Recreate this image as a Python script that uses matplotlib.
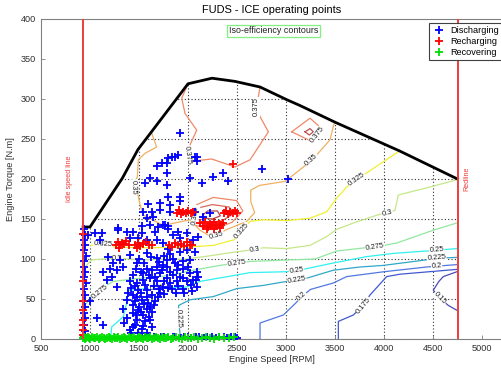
import numpy as np
import matplotlib
matplotlib.use('Agg')
import matplotlib.pyplot as plt
from matplotlib.patches import Polygon
from matplotlib.lines import Line2D

plt.rcParams['font.family'] = ['Liberation Sans', 'DejaVu Sans']

# ---------------- data ----------------
idle_speed = 930
red_speed = 4750

max_speed = [930, 1000, 1330, 1490, 1640, 2000, 2245, 2480, 2735, 3010, 3140, 3500, 4160, 4750]
max_torque = [140, 140, 201, 237, 261, 319, 326, 322, 315, 299, 292, 271, 235, 200]

# iso-efficiency curves (speed, torque) and vertex indices where labels sit
c150_x = [4742, 4656, 4571, 4503, 4560, 4605, 4742]
c150_y = [36, 42, 51, 61, 72, 78, 84]
c150_lab = [2]

c175_x = [3534, 3534, 3687, 3789, 3857, 4027, 4163, 4742]
c175_y = [0, 22, 30, 42, 55, 78, 81, 87]
c175_lab = [3]

c200_x = [2735, 2735, 2973, 3100, 3160, 3250, 3483, 3619, 3993, 4435, 4537, 4742]
c200_y = [0, 20, 30, 45, 53, 62, 70, 78, 84, 90, 91, 93]
c200_lab = [4, 10]

c225_x = [1918, 1918, 1900, 1905, 1987, 2020, 2258, 2497, 2633, 2768, 3007, 3109, 3211, 3483, 3755, 3993, 4435, 4537, 4742]
c225_y = [0, 8, 26, 42, 47, 49, 53, 63, 65, 67, 72, 74, 76, 86, 90, 92, 99, 101, 102]
c225_lab = [2, 11, 17]

c250_x = [1210, 1221, 1340, 1374, 1391, 1578, 1680, 1987, 2122, 2497, 2633, 2973, 3109, 3211, 3483, 3823, 4095, 4435, 4537, 4742]
c250_y = [0, 15, 28, 45, 61, 63, 63, 65, 72, 80, 83, 84, 85, 88, 95, 103, 107, 110, 111, 113]
c250_lab = [6, 12, 18]

c275_x = [932, 1000, 1102, 1180, 1238, 1510, 1782, 2055, 2327, 2497, 2633, 3296, 3517, 3806, 3908, 4130, 4503, 4742]
c275_y = [40, 50, 59, 68, 72, 76, 79, 86, 92, 95, 97, 100, 110, 114, 115, 120, 136, 145]
c275_lab = [2, 9, 14]

c300_x = [932, 1017, 1280, 1510, 1987, 2224, 2497, 2684, 2768, 3007, 3245, 3415, 3517, 3687, 3959, 4034, 4112, 4146, 4469, 4742]
c300_y = [88, 99, 101, 99, 100, 104, 109, 112, 114, 113, 117, 128, 137, 145, 156, 157, 161, 180, 190, 199]
c300_lab = [2, 7, 15]

c325_x = [1000, 1136, 1255, 1600, 1987, 2258, 2470, 2545, 2633, 2768, 3007, 3245, 3415, 3517, 3619, 3721, 3900, 4146]
c325_y = [117, 119, 115, 114, 115, 117, 124, 135, 147, 149, 148, 151, 159, 176, 190, 199, 214, 234]
c325_lab = [1, 7, 15]

c350_x = [1625, 1680, 1560, 1493, 1483, 1445, 1490, 1510, 1544, 1748, 2020, 2122, 2207, 2293, 2380, 2599, 2680, 2640, 2640, 2730, 2990, 3177, 3262, 3313, 3449, 3483, 3500]
c350_y = [259, 240, 232, 224, 203, 190, 180, 168, 155, 142, 149, 136, 130, 129, 136, 147, 158, 172, 186, 192, 197, 215, 224, 230, 249, 266, 272]
c350_lab = [5, 13, 22]

c375_x = [2003, 1936, 1969, 2089, 2003, 1995, 2020, 2242, 2480, 2633, 2735, 2820, 2735, 2700, 2735]
c375_y = [320, 301, 282, 261, 238, 230, 222, 225, 215, 224, 243, 259, 278, 290, 315]
c375_lab = [5, 13]

c375b_x = [3058, 3245, 3364, 3318, 3262, 3058]
c375b_y = [259, 276, 263, 256, 247, 259]
c375b_lab = [3]

c375c_x = [2050, 2090, 2258, 2496, 2560, 2450, 2330, 2200, 2080, 2050]
c375c_y = [150, 168, 177, 173, 160, 146, 140, 138, 142, 150]

c385_x = [2090, 2075, 2110, 2250, 2420, 2470, 2350, 2200, 2090]
c385_y = [145, 155, 164, 168, 165, 157, 148, 145, 145]
c385_lab = [1]

c395_x = [2150, 2200, 2300, 2330, 2250, 2160, 2150]
c395_y = [155, 160, 160, 154, 150, 151, 155]

c395b_x = [3194, 3245, 3279, 3238, 3194]
c395b_y = [259, 263, 259, 255, 259]

# operating points
discharging_upper = [(1918, 257), (1901, 230), (1867, 228), (1833, 227), (1799, 226), (1731, 220),
                     (1680, 216), (1782, 220), (1782, 207), (1612, 201), (1561, 195), (1680, 197),
                     (1782, 193), (2088, 227), (2071, 228), (2088, 222), (2020, 201), (2139, 195),
                     (2258, 202), (2360, 207), (2411, 197), (2751, 213), (3023, 200), (1799, 178),
                     (1918, 178), (1918, 172), (1816, 168), (1595, 169), (1714, 170), (1544, 159),
                     (1629, 159), (1714, 161), (1816, 159), (1578, 151), (1646, 153), (1612, 143),
                     (1748, 143), (1799, 141), (1527, 141), (1289, 139), (2071, 159), (2156, 153),
                     (2224, 157)]

discharging_core = [(983, 130), (1051, 132), (1119, 132), (1289, 136), (1374, 134), (1442, 134),
                    (1527, 132), (1663, 134), (1697, 140), (1765, 143), (1799, 138), (1850, 130),
                    (1901, 134), (1918, 126), (1986, 132), (2054, 124), (2105, 128),
                    (1102, 124), (1408, 126), (1493, 126), (1578, 124), (1680, 124), (1748, 120),
                    (1799, 113), (1918, 109), (1986, 111), (2071, 109),
                    (1187, 103), (1238, 95), (1306, 99), (1408, 105), (1476, 95), (1578, 107),
                    (1680, 101), (1782, 99), (1867, 95), (1952, 97), (2020, 99),
                    (1204, 88), (1272, 86), (1340, 90), (1442, 80), (1544, 82), (1578, 88),
                    (1629, 86), (1680, 90), (1748, 92), (1816, 84), (1884, 86), (1952, 88),
                    (2020, 82), (2088, 84), (1918, 78), (1782, 76), (1714, 82),
                    (1408, 72), (1476, 70), (1544, 74), (1612, 76), (1680, 72), (1748, 65),
                    (1816, 70), (1884, 72), (1986, 72), (2054, 74), (2088, 65), (1952, 63),
                    (1578, 61), (1493, 61), (1442, 55), (1629, 55), (1714, 57),
                    (1374, 49), (1459, 47), (1527, 49), (1595, 45), (1663, 47), (1578, 38),
                    (1493, 36), (1629, 34), (1442, 32), (1544, 30), (1340, 38),
                    (1476, 24), (1561, 22), (1612, 24), (1442, 15), (1527, 13), (1629, 15),
                    (1578, 7), (1493, 7), (1408, 11),
                    (1068, 26), (1136, 17), (1000, 47), (1272, 65), (1170, 74), (1136, 84), (1221, 78),
                    (1500, 100), (1550, 95), (1620, 102), (1700, 96), (1750, 104), (1820, 106),
                    (1850, 100), (1900, 92), (1470, 88), (1520, 84), (1600, 80), (1660, 78),
                    (1730, 86), (1790, 90), (1850, 80), (1950, 76), (2000, 90), (1420, 64),
                    (1460, 66), (1520, 58), (1560, 68), (1650, 66), (1700, 62), (1760, 72),
                    (1840, 62), (1900, 66), (2030, 68), (1390, 58), (1480, 52), (1550, 44),
                    (1610, 40), (1650, 42), (1440, 42), (1500, 40), (1380, 26), (1460, 18),
                    (1540, 16), (1600, 28), (1350, 20), (1420, 8), (1560, 4), (1470, 30),
                    (1520, 34), (1580, 52), (1690, 52), (1760, 56), (1800, 64), (1880, 58),
                    (1960, 58), (2040, 60), (2080, 74), (2100, 78)]

discharging_idle = [(940, 138), (945, 130), (935, 124), (950, 118), (938, 111), (955, 104), (940, 97),
                    (935, 90), (948, 84), (940, 77), (955, 70), (935, 63), (945, 55), (940, 48),
                    (950, 40), (935, 33), (945, 26), (940, 18), (950, 10), (938, 4)]

discharging_floor = [(1485, 2), (1530, 3), (1562, 1), (1604, 2), (1648, 3), (1671, 1), (1720, 2),
                     (1755, 3), (1798, 1), (1846, 2), (1872, 3), (1925, 1), (1958, 2), (2004, 3),
                     (2035, 1), (2086, 2), (2117, 3), (2165, 1), (2198, 2), (2243, 3), (2288, 1),
                     (2316, 2), (2364, 3), (2395, 1), (2441, 2), (2478, 3), (2502, 1)]

recharging = [(1262, 118), (1285, 121), (1310, 117), (1330, 120), (1350, 119), (1372, 122),
              (1395, 118), (1300, 114),
              (1460, 117), (1490, 120), (1510, 116), (1540, 119), (1570, 121), (1600, 117),
              (1630, 118), (1480, 114),
              (1810, 118), (1840, 115), (1870, 120), (1900, 117), (1930, 119), (1960, 116),
              (1990, 121), (2020, 118), (2045, 117),
              (1884, 158), (1905, 161), (1925, 156), (1950, 159), (1975, 157), (2000, 160),
              (2030, 157), (2054, 159),
              (2120, 145), (2150, 141), (2175, 146), (2200, 140), (2220, 144), (2245, 142),
              (2270, 146), (2290, 141), (2315, 144), (2340, 142), (2360, 145), (2190, 137),
              (2265, 138), (2330, 139),
              (2365, 158), (2390, 160), (2410, 156), (2430, 159), (2455, 157), (2475, 160),
              (2495, 158),
              (2462, 219),
              (930, 131), (930, 72), (930, 48), (930, 36), (930, 24), (930, 17), (930, 11), (930, 5)]

recovering_x = [925, 935, 948, 960, 975, 990, 1005, 1022, 1040, 1055, 1070, 1088, 1105, 1120, 1138,
                1155, 1170, 1190, 1205, 1222, 1240, 1258, 1275, 1290, 1310, 1328, 1345, 1362, 1380,
                1398, 1415, 1432, 1450, 1468, 1485, 1505, 1522, 1540, 1560, 1578, 1596, 1615, 1634,
                1652, 1670, 1690, 1710, 1730, 1752, 1775, 1798, 1822, 1850, 1878, 1905, 1935, 1965,
                1998, 2030, 2065, 2100, 2140, 2180, 2225, 2270, 2320, 2370, 2420, 2470]
recovering_y = [1, 2, 0, 1, 2, 1, 0, 2, 1, 1, 2, 0, 1, 2, 1, 0, 1, 2, 1, 0, 2, 1, 1, 2, 0, 1, 2, 1, 0,
                2, 1, 1, 2, 0, 1, 2, 1, 0, 2, 1, 1, 2, 0, 1, 2, 1, 0, 2, 1, 1, 2, 0, 1, 2, 1, 0, 2,
                1, 1, 2, 0, 1, 2, 1, 0, 2, 1, 1, 2]

x_ticks = [500, 1000, 1500, 2000, 2500, 3000, 3500, 4000, 4500, 5000]
y_ticks = [0, 50, 100, 150, 200, 250, 300, 350, 400]

# ---------------- figure ----------------
W, H = 502, 371
fig = plt.figure(figsize=(W / 100, H / 100), dpi=100)
ax = fig.add_axes([41 / W, 32 / H, 461 / W, 320 / H])
ax.set_xlim(500, 5204)
ax.set_ylim(0, 400)

curves = [
    (c150_x, c150_y, c150_lab, 0.15, '#4a4ab4'),
    (c175_x, c175_y, c175_lab, 0.175, '#4058d0'),
    (c200_x, c200_y, c200_lab, 0.2, '#5078e0'),
    (c225_x, c225_y, c225_lab, 0.225, '#30a8c8'),
    (c250_x, c250_y, c250_lab, 0.25, '#30f0f0'),
    (c275_x, c275_y, c275_lab, 0.275, '#90e8a0'),
    (c300_x, c300_y, c300_lab, 0.3, '#c4e888'),
    (c325_x, c325_y, c325_lab, 0.325, '#f0f030'),
    (c350_x, c350_y, c350_lab, 0.35, '#f0b060'),
    (c375_x, c375_y, c375_lab, 0.375, '#f08868'),
    (c375b_x, c375b_y, c375b_lab, 0.375, '#f08868'),
    (c375c_x, c375c_y, [], 0.375, '#f08868'),
    (c385_x, c385_y, c385_lab, 0.385, '#d86858'),
    (c395_x, c395_y, [], 0.395, '#b04848'),
    (c395b_x, c395b_y, [], 0.395, '#c05050'),
]

for xs, ys, labs, lvl, col in curves:
    ax.plot(xs, ys, color=col, lw=0.9, zorder=2)
    for i in labs:
        a = max(i - 1, 0)
        b = min(i + 1, len(xs) - 1)
        p1 = ax.transData.transform((xs[a], ys[a]))
        p2 = ax.transData.transform((xs[b], ys[b]))
        ang = np.degrees(np.arctan2(p2[1] - p1[1], p2[0] - p1[0]))
        if ang > 90:
            ang -= 180
        if ang < -90:
            ang += 180
        ax.text(xs[i], ys[i], f"{lvl:g}", rotation=ang, rotation_mode='anchor',
                ha='center', va='center', fontsize=5.5, color='#202020', zorder=3,
                bbox=dict(boxstyle='square,pad=0.05', fc='white', ec='none'))

# envelope polygon used to clip the grid
env_x = [idle_speed] + max_speed + [red_speed]
env_y = [0] + max_torque + [0]
env = Polygon(np.column_stack([env_x, env_y]), closed=True, fc='none', ec='none',
              transform=ax.transData)
ax.add_patch(env)

ax.set_xticks(x_ticks)
ax.set_yticks(y_ticks)
ax.grid(True, linestyle=(0, (1, 2)), color='#303030', lw=0.8)
for gl in ax.get_xgridlines() + ax.get_ygridlines():
    gl.set_clip_path(env)

# max torque curve
ax.plot(max_speed, max_torque, color='black', lw=2, zorder=4)

# operating points
dis = discharging_upper + discharging_core + discharging_idle + discharging_floor
mk = dict(marker='+', ls='none', ms=5.5, mew=1.3)
ax.plot([p[0] for p in dis], [p[1] for p in dis], color='#0000ff', zorder=5, **mk)
ax.plot([p[0] for p in recharging], [p[1] for p in recharging], color='#ff0000', zorder=6, **mk)
ax.plot(recovering_x, recovering_y, color='#00e000', zorder=6, clip_on=False, **mk)

# idle / red lines
ax.axvline(idle_speed, color='#f03c3c', lw=1.4, zorder=7)
ax.axvline(red_speed, color='#f03c3c', lw=1.4, zorder=7)
ax.text(790, 200, 'Idle speed line', rotation=90, color='#f03c3c', fontsize=5.2,
        ha='center', va='center')
ax.text(4850, 200, 'Redline', rotation=90, color='#f03c3c', fontsize=5.2,
        ha='center', va='center')

ax.text(2873, 385, 'Iso-efficiency contours', fontsize=6.4, ha='center', va='center',
        color='#202020',
        bbox=dict(boxstyle='square,pad=0.2', fc='white', ec='#80f080', lw=0.9))

# axes styling
for s in ['left', 'bottom', 'top']:
    ax.spines[s].set_color('#808080')
    ax.spines[s].set_linewidth(0.8)
ax.spines['right'].set_visible(False)
ax.tick_params(direction='in', length=3, width=0.6, color='#808080',
               labelsize=6.6, labelcolor='#303030')
ax.tick_params(axis='x', pad=3.5)
ax.tick_params(axis='y', pad=3.5)

ax.set_xlabel('Engine Speed [RPM]', fontsize=6.6, color='#303030', labelpad=1.5)
ax.set_ylabel('Engine Torque [N.m]', fontsize=6.6, color='#303030', labelpad=4)
ax.set_title('FUDS - ICE operating points', fontsize=7.9, pad=4)

handles = [Line2D([], [], color='#0000ff', **mk),
           Line2D([], [], color='#ff0000', **mk),
           Line2D([], [], color='#00e000', **mk)]
leg = ax.legend(handles, ['Discharging', 'Recharging', 'Recovering'], loc='upper right',
                bbox_to_anchor=(1.0, 0.9875), borderaxespad=0, fontsize=6.6,
                fancybox=False, framealpha=1, edgecolor='#404040', handlelength=1.4,
                handletextpad=0.6, borderpad=0.3, labelspacing=0.25, numpoints=1)
leg.get_frame().set_linewidth(0.8)
leg.set_zorder(10)

fig.savefig('out.png', dpi=100)
